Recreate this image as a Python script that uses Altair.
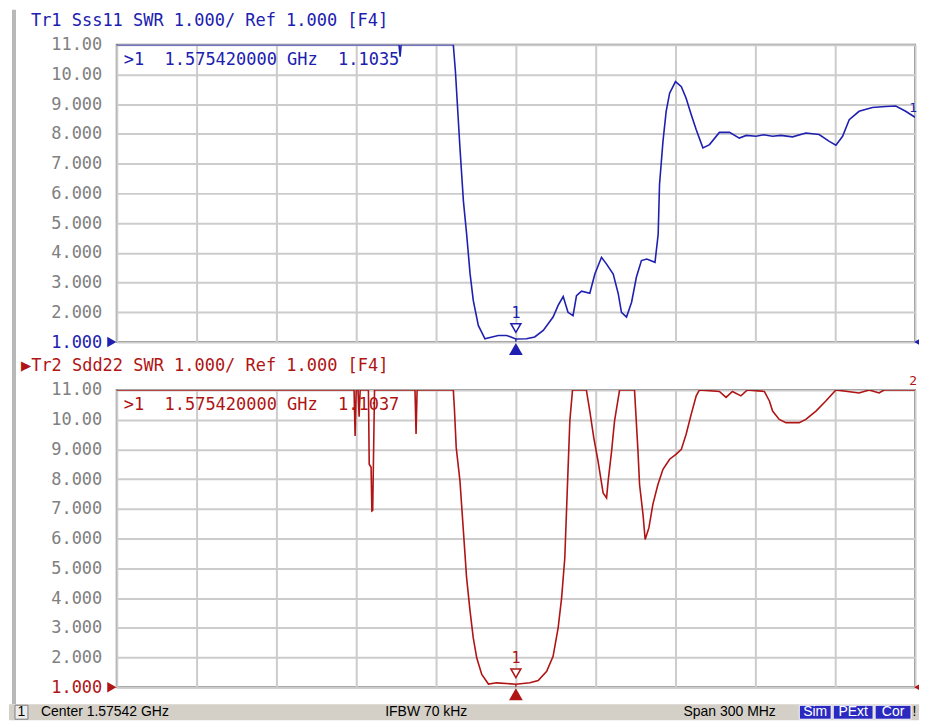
import altair as alt
import pandas as pd

# ---------------- data ----------------
F_START, F_STOP = 1425.42, 1725.42          # MHz (center 1575.42, span 300)
X_GRID = [round(F_START + 30 * i, 2) for i in range(11)]
Y_TICKS = list(range(1, 12))
MARKER_F = 1575.42

# Tr1 Sss11 SWR
top_f = [1425.42, 1531.5, 1531.9, 1532.3, 1551.9, 1552.7, 1554.4, 1555.7, 1556.9, 1558.2,
         1559.4, 1561.3, 1563.8, 1565.7, 1568.8, 1572.0, 1575.42, 1579.4, 1582.5, 1585.7,
         1589.4, 1591.3, 1593.2, 1595.0, 1596.9, 1598.2, 1600.1, 1603.2, 1605.1, 1607.6,
         1609.5, 1612.0, 1613.9, 1615.1, 1617.0, 1618.9, 1620.7, 1622.6, 1624.6, 1627.7,
         1628.9, 1629.4, 1630.7, 1631.9, 1633.2, 1635.4, 1637.6, 1639.4, 1641.3, 1643.2,
         1645.7, 1648.2, 1651.9, 1655.7, 1659.4, 1662.0, 1665.7, 1668.5, 1671.9, 1675.0,
         1679.4, 1684.4, 1689.4, 1693.2, 1695.7, 1698.2, 1700.7, 1704.4, 1709.4, 1714.4,
         1718.2, 1721.9, 1725.42]
top_v = [11.0, 11.0, 10.6, 11.0, 11.0, 10.1, 7.53, 5.74, 4.64, 3.30,
         2.40, 1.56, 1.11, 1.15, 1.22, 1.22, 1.1035, 1.11, 1.17, 1.39,
         1.84, 2.23, 2.53, 2.00, 1.89, 2.56, 2.71, 2.64, 3.29, 3.85,
         3.62, 3.29, 2.62, 2.00, 1.84, 2.34, 3.18, 3.74, 3.79, 3.68,
         4.63, 6.30, 7.75, 8.76, 9.37, 9.76, 9.59, 9.20, 8.65, 8.14,
         7.53, 7.64, 8.05, 8.05, 7.86, 7.95, 7.92, 7.97, 7.92, 7.95,
         7.90, 8.03, 7.98, 7.75, 7.62, 7.92, 8.48, 8.76, 8.89, 8.92,
         8.94, 8.76, 8.56]

# Tr2 Sdd22 SWR
bot_f = [1425.42, 1514.6, 1515.0, 1515.4, 1516.1, 1516.5, 1516.9, 1520.0, 1520.3, 1521.0,
         1521.3, 1521.6, 1522.3, 1537.5, 1537.9, 1538.3, 1551.9, 1552.3, 1553.0, 1554.4,
         1555.7, 1556.9, 1558.2, 1559.4, 1560.7, 1562.6, 1565.1, 1568.2, 1575.42, 1580.7,
         1583.8, 1587.0, 1589.4, 1591.3, 1592.6, 1593.8, 1594.4, 1595.0, 1595.7, 1596.7,
         1601.9, 1603.2, 1604.7, 1606.3, 1608.2, 1609.5, 1610.1, 1611.4, 1612.5, 1614.4,
         1620.0, 1621.3, 1621.9, 1623.2, 1624.0, 1625.4, 1626.9, 1628.8, 1630.7, 1633.2,
         1635.7, 1637.6, 1639.4, 1641.3, 1643.2, 1644.4, 1651.9, 1654.4, 1656.8, 1660.0,
         1662.4, 1668.8, 1670.7, 1671.9, 1674.4, 1676.9, 1681.9, 1684.4, 1688.2, 1691.9,
         1695.7, 1704.4, 1708.2, 1711.9, 1713.8, 1725.42]
bot_v = [11.0, 11.0, 9.45, 11.0, 11.0, 10.1, 11.0, 11.0, 8.5, 8.4,
         6.93, 6.95, 11.0, 11.0, 9.52, 11.0, 11.0, 10.4, 9.06, 7.94,
         6.25, 4.68, 3.56, 2.66, 1.99, 1.43, 1.11, 1.15, 1.1037, 1.15,
         1.23, 1.54, 2.04, 3.00, 4.00, 5.35, 6.81, 8.27, 9.96, 11.0,
         11.0, 10.29, 9.39, 8.61, 7.54, 7.37, 7.94, 8.95, 9.96, 11.0,
         11.0, 8.95, 7.82, 6.81, 5.97, 6.36, 7.15, 7.82, 8.33, 8.67,
         8.84, 9.00, 9.51, 10.18, 10.8, 11.0, 10.95, 10.75, 10.95, 10.8,
         11.0, 10.95, 10.63, 10.29, 10.01, 9.90, 9.90, 10.01, 10.29, 10.63,
         11.0, 10.9, 11.0, 10.9, 11.0, 11.0]

top_title = "Tr1 Sss11 SWR 1.000/ Ref 1.000 [F4]"
bot_title = "\u25b6Tr2 Sdd22 SWR 1.000/ Ref 1.000 [F4]"
top_readout = ">1\u00a0\u00a01.575420000\u00a0GHz\u00a0\u00a01.1035"
bot_readout = ">1\u00a0\u00a01.575420000\u00a0GHz\u00a0\u00a01.1037"
status_center = "Center 1.57542 GHz"
status_ifbw = "IFBW 70 kHz"
status_span = "Span 300 MHz"
status_boxes = ["Sim", "PExt", "Cor"]

# ---------------- style ----------------
BLUE = "#2020b0"
RED = "#b01414"
LBL = "#808080"
GRID = "#cccccc"
MONO = "DejaVu Sans Mono"
SANS = "Liberation Sans Narrow, Liberation Sans"
W, H = 800, 298


def one(**kw):
    return pd.DataFrame({k: [v] for k, v in kw.items()} or {"d": [0]})


def panel(f, v, color, title, title_x, readout, marker_val, end_label, extra):
    df = pd.DataFrame({"f": f, "v": v})
    xs = alt.X("f:Q", scale=alt.Scale(domain=[F_START, F_STOP], nice=False, zero=False),
               axis=alt.Axis(values=X_GRID, labels=False, ticks=False, domain=False,
                             grid=True, gridColor=GRID, gridWidth=2, title=None))
    ys = alt.Y("v:Q", scale=alt.Scale(domain=[1, 11], nice=False, zero=False),
               axis=alt.Axis(values=Y_TICKS, ticks=False, domain=False, grid=True,
                             gridColor=GRID, gridWidth=2, title=None,
                             labelExpr="datum.value >= 10 ? format(datum.value, '.2f') : format(datum.value, '.3f')",
                             labelColor=alt.expr(f"datum.value == 1 ? '{color}' : '{LBL}'"),
                             labelFont=MONO, labelFontSize=17, labelPadding=15,
                             labelFlush=False, labelOverlap=False))
    layers = list(extra)
    layers.append(alt.Chart(df).mark_line(color=color, strokeWidth=1.6, clip=True)
                  .encode(x=xs, y=ys))
    mk = pd.DataFrame({"f": [MARKER_F], "v": [marker_val]})
    layers.append(alt.Chart(mk).mark_rule(color=color, strokeWidth=1.3)
                  .encode(x=xs, y=ys, y2=alt.Y2Datum(1.0)))
    layers.append(alt.Chart(mk).mark_point(shape="triangle-down", size=100, filled=True,
                                           fill="#ffffff", stroke=color, opacity=1,
                                           strokeWidth=1.5, yOffset=-11)
                  .encode(x=xs, y=ys))
    layers.append(alt.Chart(mk.assign(t="1")).mark_text(font=MONO, fontSize=15, color=color,
                                                        yOffset=-26)
                  .encode(x=xs, y=ys, text="t:N"))
    base = pd.DataFrame({"f": [MARKER_F], "v": [1.0]})
    layers.append(alt.Chart(base).mark_point(shape="triangle-up", size=190, filled=True,
                                             color=color, opacity=1, yOffset=7)
                  .encode(x=xs, y=ys))
    lft = pd.DataFrame({"f": [F_START], "v": [1.0]})
    layers.append(alt.Chart(lft).mark_point(shape="triangle-right", size=110, filled=True,
                                            color=color, opacity=1, xOffset=-5)
                  .encode(x=xs, y=ys))
    rgt = pd.DataFrame({"f": [F_STOP], "v": [1.0]})
    layers.append(alt.Chart(rgt).mark_point(shape="triangle-left", size=80, filled=True,
                                            color=color, opacity=1, xOffset=3)
                  .encode(x=xs, y=ys))
    endp = pd.DataFrame({"f": [f[-1]], "v": [min(v[-1], 11.0)], "t": [end_label]})
    layers.append(alt.Chart(endp).mark_text(font=MONO, fontSize=13, color=color,
                                            align="right", dx=2, dy=-9)
                  .encode(x=xs, y=ys, text="t:N"))
    layers.append(alt.Chart(one(t=title)).mark_text(font=MONO, fontSize=17, color=color,
                                                    align="left", baseline="middle")
                  .encode(x=alt.value(title_x), y=alt.value(-24), text="t:N"))
    layers.append(alt.Chart(one(t=readout)).mark_text(font=MONO, fontSize=17, color=color,
                                                      align="left", baseline="middle")
                  .encode(x=alt.value(7), y=alt.value(15), text="t:N"))
    return alt.layer(*layers).properties(width=W, height=H)


def rect(x1, x2, y1, y2, fill, stroke=None, opacity=1.0):
    kw = dict(color=fill, opacity=opacity)
    if stroke:
        kw = dict(fill=fill, stroke=stroke, strokeWidth=1, opacity=opacity)
    return alt.Chart(one()).mark_rect(**kw).encode(
        x=alt.value(x1), x2=alt.value(x2), y=alt.value(y1), y2=alt.value(y2))


def label(t, x, y, color="#000000", align="left", size=14):
    return alt.Chart(one(t=t)).mark_text(font=SANS, fontSize=size, color=color,
                                         align=align, baseline="middle").encode(
        x=alt.value(x), y=alt.value(y), text="t:N")


top_extra = [
    rect(-108, 811, -35, 322, "#ffffff", opacity=0.0),
    rect(-105, -101, -35, 322, "#b8b8b8"),
]
bot_extra = [
    rect(-105, -101, -24, 315, "#b8b8b8"),
    rect(-108, 811, 315, 331, "#d4d0c8"),
    rect(-102, -89, 316, 330, "#ececec", "#808080"),
    label("1", -95.5, 323, align="center"),
    label(status_center, -76, 323),
    label(status_ifbw, 269, 323),
    label(status_span, 568, 323),
    rect(684, 716, 316, 330, "#2a2ac0", "#ffffff"),
    label(status_boxes[0], 700, 323, color="#ffffff", align="center"),
    rect(718, 758, 316, 330, "#2a2ac0", "#ffffff"),
    label(status_boxes[1], 738, 323, color="#ffffff", align="center"),
    rect(760, 796, 316, 330, "#2a2ac0", "#ffffff"),
    label(status_boxes[2], 778, 323, color="#ffffff", align="center"),
    label("!", 799.5, 323, align="center"),
]

top = panel(top_f, top_v, BLUE, top_title, -86, top_readout, 1.1035, "1", top_extra)
bot = panel(bot_f, bot_v, RED, bot_title, -96, bot_readout, 1.1037, "2", bot_extra)

chart = alt.vconcat(top, bot, spacing=48, bounds="flush").properties(
    padding={"left": 0, "top": 0, "right": -8, "bottom": 0}, background="#ffffff"
).configure_view(stroke="#808080", strokeWidth=2)

chart.save("out.html", embed_options={"renderer": "svg", "actions": False})
